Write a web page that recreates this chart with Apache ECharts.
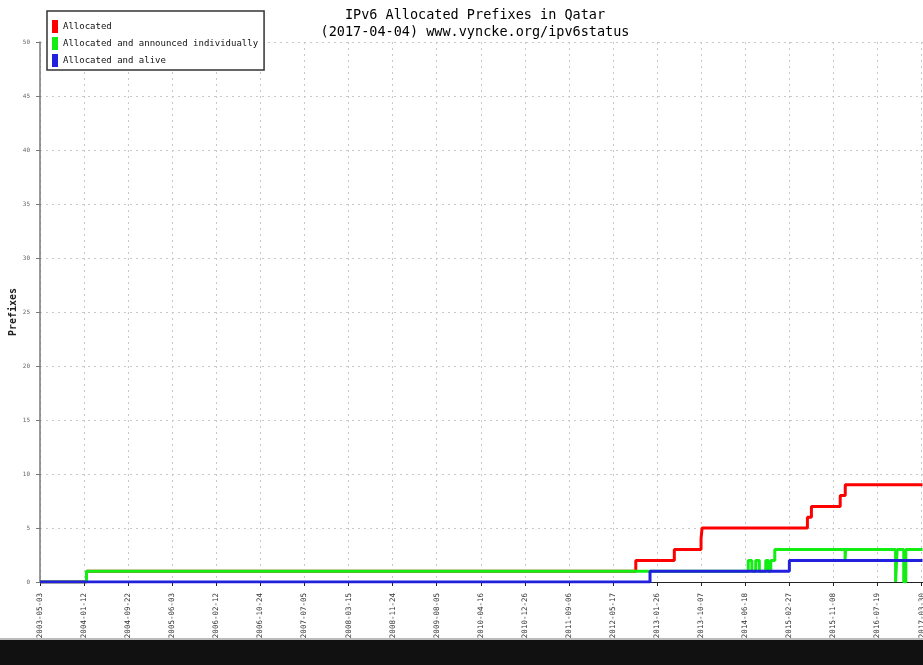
<!DOCTYPE html>
<html>
<head>
<meta charset="utf-8">
<title>IPv6 Allocated Prefixes in Qatar</title>
<script src="https://cdn.jsdelivr.net/npm/echarts@6/dist/echarts.min.js"></script>
<style>
  html, body { margin: 0; padding: 0; background: #fff; }
  #chart { width: 923px; height: 665px; }
</style>
</head>
<body>
<div id="chart"></div>
<script>
// Daily prefix counts, stored as change points: [date, count from that date on]
const allocated = [
  ['2003-05-03', 0], ['2004-01-26', 1], ['2012-09-25', 2], ['2013-05-05', 3],
  ['2013-10-06', 4], ['2013-10-12', 5], ['2015-06-11', 6], ['2015-07-04', 7],
  ['2015-12-17', 8], ['2016-01-15', 9], ['2017-04-04', 9]
];
const announced = [
  ['2003-05-03', 0], ['2004-01-26', 1], ['2014-07-05', 2], ['2014-07-26', 1],
  ['2014-08-17', 2], ['2014-09-07', 1], ['2014-10-14', 2], ['2014-10-29', 1],
  ['2014-11-12', 2], ['2014-12-05', 3], ['2016-01-14', 2], ['2016-01-17', 3],
  ['2016-10-31', 0], ['2016-11-09', 3], ['2016-12-17', 0], ['2016-12-29', 3],
  ['2017-04-04', 3]
];
const alive = [
  ['2003-05-03', 0], ['2012-12-16', 1], ['2015-02-27', 2], ['2017-04-04', 2]
];
const seriesNames = ['Allocated', 'Allocated and announced individually', 'Allocated and alive'];
const seriesColors = ['#ff0000', '#12ee12', '#2020dd'];
const titleLines = ['IPv6 Allocated Prefixes in Qatar', '(2017-04-04) www.vyncke.org/ipv6status'];

// x axis runs in days since the first sample; ticks every 254 days
const START = Date.UTC(2003, 4, 3);
const DAY = 86400000;
const TICK_DAYS = 254;
const X_MAX = 5088;
const Y_MAX = 50;
const Y_STEP = 5;

function toDay(s) {
  const p = s.split('-').map(Number);
  return Math.round((Date.UTC(p[0], p[1] - 1, p[2]) - START) / DAY);
}
function fromDay(d) {
  return new Date(START + d * DAY).toISOString().slice(0, 10);
}
function toPoints(arr) {
  return arr.map(r => [toDay(r[0]), r[1]]);
}

const MONO = '"DejaVu Sans Mono", "Liberation Mono", monospace';
const chart = echarts.init(document.getElementById('chart'));

const sources = [allocated, announced, alive];
chart.setOption({
  animation: false,
  backgroundColor: '#fff',
  title: {
    text: titleLines.join('\n'),
    left: 470,
    textAlign: 'center',
    top: 2,
    textStyle: { fontFamily: MONO, fontSize: 13.5, fontWeight: 'normal', color: '#000', lineHeight: 17 }
  },
  legend: {
    data: seriesNames,
    orient: 'vertical',
    left: 47,
    top: 11,
    icon: 'rect',
    itemWidth: 6,
    itemHeight: 13,
    itemGap: 4,
    padding: [9, 6, 3, 5],
    borderColor: '#333',
    borderWidth: 1.5,
    backgroundColor: '#fff',
    selectedMode: false,
    textStyle: { fontFamily: MONO, fontSize: 9, color: '#111' }
  },
  grid: { left: 40, right: 0, top: 42, bottom: 83, containLabel: false, outerBoundsMode: 'none' },
  xAxis: {
    type: 'value',
    min: 0,
    max: X_MAX,
    interval: TICK_DAYS,
    axisLine: { show: true, lineStyle: { color: '#222', width: 1 } },
    axisTick: { show: true, length: 4, lineStyle: { color: '#222' } },
    axisLabel: {
      rotate: 90,
      margin: 11,
      fontFamily: MONO,
      fontSize: 7.5,
      color: '#333',
      showMaxLabel: true,
      formatter: v => (v % TICK_DAYS === 0 ? fromDay(v) : '')
    },
    splitLine: { show: true, lineStyle: { color: '#c8c8c8', type: [2, 4], width: 1 } }
  },
  yAxis: {
    type: 'value',
    min: 0,
    max: Y_MAX,
    interval: Y_STEP,
    name: 'Prefixes',
    nameLocation: 'middle',
    nameGap: 22,
    nameMoveOverlap: false,
    nameRotate: 90,
    nameTextStyle: { fontFamily: MONO, fontSize: 10, fontWeight: 'bold', color: '#222' },
    axisLine: { show: true, lineStyle: { color: '#777', width: 1.5 } },
    axisTick: { show: true, length: 4, lineStyle: { color: '#777' } },
    axisLabel: { margin: 10, fontFamily: MONO, fontSize: 6, color: '#666' },
    splitLine: { show: true, lineStyle: { color: '#c8c8c8', type: [2, 4], width: 1 } }
  },
  series: sources.map((src, i) => ({
    name: seriesNames[i],
    type: 'line',
    step: 'end',
    symbol: 'none',
    z: 2 + i,
    color: seriesColors[i],
    lineStyle: { width: 3, color: seriesColors[i] },
    data: toPoints(src)
  })),
  graphic: [
    { type: 'rect', left: 0, top: 638, shape: { width: 923, height: 2 }, style: { fill: '#bbb' }, silent: true },
    { type: 'rect', left: 0, top: 640, shape: { width: 923, height: 25 }, style: { fill: '#111' }, silent: true }
  ]
});
</script>
</body>
</html>
